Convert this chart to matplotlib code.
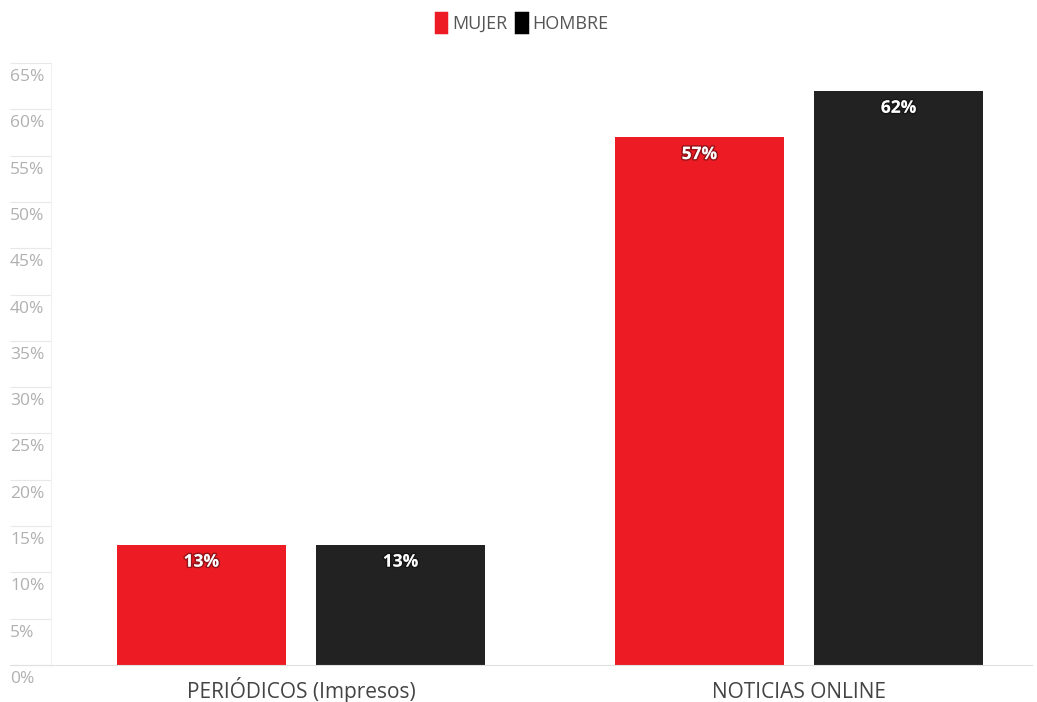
"""
Consumo de noticias por medio y sexo
"""

import matplotlib.pyplot as plt
import matplotlib.patheffects as pe
from matplotlib.patches import Patch

plt.rcParams['font.family'] = ['Open Sans', 'DejaVu Sans']

categorias = ["PERIÓDICOS (Impresos)", "NOTICIAS ONLINE"]
mujer = [13, 57]
hombre = [13, 62]
series = ["MUJER", "HOMBRE"]
ticks = list(range(0, 70, 5))

rojo = "#ed1c24"
negro = "#222222"

fig = plt.figure(figsize=(10.37, 7.02), dpi=100)
# axes in figure fractions: left edge at x=51px, baseline at y=665px
ax = fig.add_axes([51 / 1037, (702 - 665) / 702, (1032 - 51) / 1037, (665 - 63) / 702])

x = list(range(len(categorias)))
ancho = 0.34
desp = 0.2
b1 = ax.bar([i - desp for i in x], mujer, ancho, color=rojo, label=series[0])
b2 = ax.bar([i + desp for i in x], hombre, ancho, color=negro, label=series[1])

# value labels inside the top of each bar
sombra = [pe.withStroke(linewidth=2.2, foreground=(0, 0, 0, 0.35))]
for barras, vals in ((b1, mujer), (b2, hombre)):
    for rect, v in zip(barras, vals):
        ax.annotate(f"{v}%", xy=(rect.get_x() + rect.get_width() / 2, v),
                    xytext=(0, -8), textcoords="offset pixels",
                    ha="center", va="top", color="white", fontsize=12.5,
                    fontweight="bold", path_effects=sombra)

ax.set_xlim(-0.502, 1.468)
ax.set_ylim(0, 65)

# y ticks: light lines to the left, labels sitting just under them
ax.set_yticks(ticks)
ax.set_yticklabels([])
ax.tick_params(axis="y", length=41 * 72 / 100, width=0.8, color="#e8e8e8")
for t in ticks:
    ax.annotate(f"{t}%", xy=(0, t), xycoords=ax.get_yaxis_transform(),
                xytext=(-41, -6), textcoords="offset pixels",
                ha="left", va="top", fontsize=12.5, color="#b0b0b0")

ax.set_xticks(x)
ax.set_xticklabels(categorias, fontsize=15, color="#444444")
ax.tick_params(axis="x", length=0, pad=24)
for lbl in ax.get_xticklabels():
    lbl.set_va("baseline")

for s in ("top", "right"):
    ax.spines[s].set_visible(False)
ax.spines["left"].set_color("#f0f0f0")
ax.spines["bottom"].set_color("#e0e0e0")
ax.spines["bottom"].set_bounds(-0.585, 1.468)

handles = [Patch(facecolor=rojo, edgecolor=rojo, linewidth=2.5, joinstyle="round"),
           Patch(facecolor="black", edgecolor="black", linewidth=2.5, joinstyle="round")]
leg = fig.legend(handles, series, loc="center", bbox_to_anchor=(522 / 1037, 1 - 23 / 702),
                 ncols=2, frameon=False, handlelength=0.6, handleheight=1.2,
                 handletextpad=0.3, columnspacing=0.5, fontsize=13)
for t in leg.get_texts():
    t.set_color("#555555")

fig.savefig("out.png", dpi=100)
